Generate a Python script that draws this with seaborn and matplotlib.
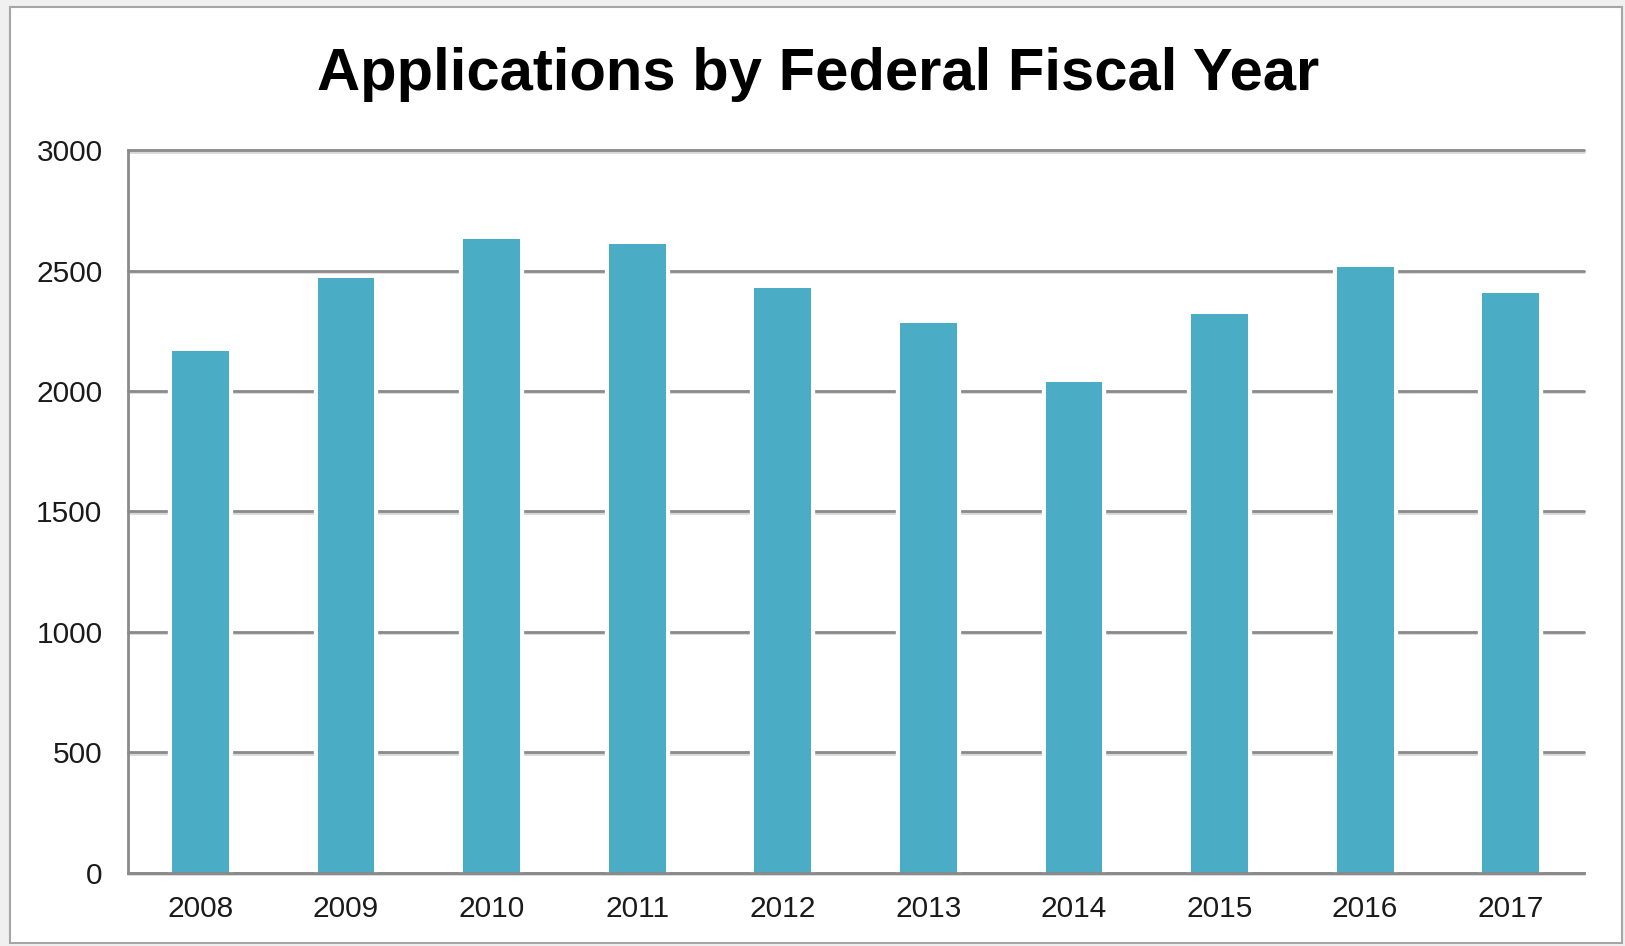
import matplotlib
matplotlib.use("Agg")
import matplotlib.pyplot as plt
import matplotlib.patheffects as pe
from matplotlib.patches import Rectangle
import seaborn as sns
import pandas as pd

years = ["2008", "2009", "2010", "2011", "2012", "2013", "2014", "2015", "2016", "2017"]
applications = [2168, 2470, 2631, 2609, 2428, 2282, 2036, 2322, 2515, 2408]
y_ticks = [0, 500, 1000, 1500, 2000, 2500, 3000]
title = "Applications by Federal Fiscal Year"

sns.set_theme(style="white")
plt.rcParams['font.family'] = ['Liberation Sans', 'DejaVu Sans']

W, H = 1625, 946
fig = plt.figure(figsize=(W / 100, H / 100), dpi=100)
fig.patch.set_facecolor("#f0f0f0")
fig.patches.append(Rectangle((10 / W, 3 / H), (1622 - 10) / W, (939 - 3) / H,
                             transform=fig.transFigure, facecolor="white",
                             edgecolor="#a6a6a6", linewidth=1.5, zorder=-5))

ax = fig.add_axes([127.5 / W, 1 - 872.6 / H, (1583.6 - 127.5) / W, (872.6 - 150.3) / H])
ax.set_zorder(2)
ax.set_facecolor("none")

df = pd.DataFrame({"year": years, "apps": applications})
sns.barplot(data=df, x="year", y="apps", order=years, color="#4BACC6",
            saturation=1, width=0.39, ax=ax, zorder=3)
for p in ax.patches:
    p.set_edgecolor("none")
    p.set_path_effects([
        pe.SimplePatchShadow(offset=(2, -2), shadow_rgbFace="#808080", alpha=0.35),
        pe.Stroke(linewidth=6, foreground="white"),
        pe.Normal(),
    ])

ax.set_ylim(0, 3000)
ax.set_xlim(-0.5, len(years) - 0.5)
ax.set_yticks(y_ticks)
ax.set_yticklabels([str(v) for v in y_ticks])
ax.yaxis.grid(True, color="#8a8a8a", linewidth=2, zorder=1)
ax.set_axisbelow(True)
for gl in ax.yaxis.get_gridlines():
    gl.set_clip_on(False)
    gl.set_path_effects([pe.SimpleLineShadow(offset=(0, -1), shadow_color="#b0b0b0", alpha=0.5), pe.Normal()])

for s in ["top", "right"]:
    ax.spines[s].set_visible(False)
for s in ["left", "bottom"]:
    ax.spines[s].set_visible(True)
    ax.spines[s].set_color("#8a8a8a")
    ax.spines[s].set_linewidth(2)
    ax.spines[s].set_zorder(4)

ax.tick_params(axis="both", length=0, labelsize=21.5, labelcolor="#1a1a1a")
ax.tick_params(axis="y", pad=18)
ax.tick_params(axis="x", pad=16)
ax.set_xlabel("")
ax.set_ylabel("")

fig.text(0.5 + 6 / W, 1 - 75 / H, title, ha="center", va="center", fontsize=43,
         fontweight="bold", color="black")

fig.savefig("out.png", dpi=100, facecolor=fig.get_facecolor())
